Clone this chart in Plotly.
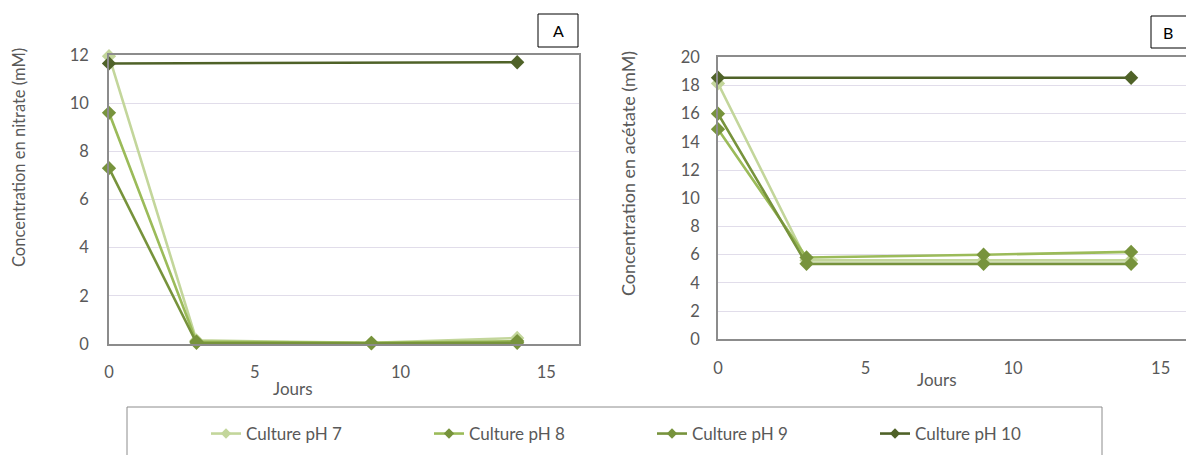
import plotly.graph_objects as go

# ---------------- data ----------------
days = [0, 3, 9, 14]
days_ph10 = [0, 14]

series_names = ["Culture pH 7", "Culture pH 8", "Culture pH 9", "Culture pH 10"]

nitrate_ph7 = [11.95, 0.15, 0.05, 0.25]
nitrate_ph8 = [9.6, 0.10, 0.05, 0.12]
nitrate_ph9 = [7.3, 0.05, 0.03, 0.05]
nitrate_ph10 = [11.65, 11.7]

acetate_ph7 = [18.15, 5.6, 5.6, 5.6]
acetate_ph8 = [14.9, 5.8, 6.0, 6.2]
acetate_ph9 = [16.0, 5.35, 5.35, 5.35]
acetate_ph10 = [18.55, 18.55]

x_ticks = [0, 5, 10, 15]
nitrate_ticks = [0, 2, 4, 6, 8, 10, 12]
acetate_ticks = [0, 2, 4, 6, 8, 10, 12, 14, 16, 18, 20]

# ---------------- styles ----------------
W, H = 1186, 455
FONT = "Lato"
TXT = "#595959"
line_colors = ["#C3D69B", "#9BBB59", "#77933C", "#4F6228"]
marker_colors = ["#C3D69B", "#77933C", "#77933C", "#4F6228"]


def px_x(p):
    return p / W


def px_y(p):
    return (H - p) / H


fig = go.Figure()

nitrate = [nitrate_ph7, nitrate_ph8, nitrate_ph9, nitrate_ph10]
acetate = [acetate_ph7, acetate_ph8, acetate_ph9, acetate_ph10]

for i, name in enumerate(series_names):
    xs = days_ph10 if i == 3 else days
    fig.add_trace(go.Scatter(
        x=xs, y=nitrate[i], name=name, mode="lines+markers",
        line=dict(color=line_colors[i], width=2.6),
        marker=dict(symbol="diamond", size=11, color=marker_colors[i], line=dict(width=0)),
        legendgroup=name, showlegend=False, cliponaxis=False,
        xaxis="x", yaxis="y"))
for i, name in enumerate(series_names):
    xs = days_ph10 if i == 3 else days
    fig.add_trace(go.Scatter(
        x=xs, y=acetate[i], name=name, mode="lines+markers",
        line=dict(color=line_colors[i], width=2.6),
        marker=dict(symbol="diamond", size=11, color=marker_colors[i], line=dict(width=0)),
        legendgroup=name, showlegend=False, cliponaxis=False,
        xaxis="x2", yaxis="y2"))
# legend entries (smaller symbols, as in the reference legend)
for i, name in enumerate(series_names):
    fig.add_trace(go.Scatter(
        x=[None], y=[None], name=name, mode="lines+markers",
        line=dict(color=line_colors[i], width=2.6),
        marker=dict(symbol="diamond", size=8, color=marker_colors[i], line=dict(width=0)),
        legendgroup=name, showlegend=True, xaxis="x", yaxis="y"))

axis_common = dict(
    showline=True, linecolor="#8C8C8C", linewidth=1.5,
    zeroline=False, ticks="", automargin=False,
    tickfont=dict(family=FONT, size=16.5, color=TXT),
)

fig.update_layout(
    width=W, height=H,
    margin=dict(l=0, r=0, t=0, b=0, autoexpand=False),
    paper_bgcolor="white", plot_bgcolor="white",
    font=dict(family=FONT, color=TXT),
    xaxis=dict(domain=[px_x(109), px_x(579)], range=[0, 16.12],
               tickvals=x_ticks, showgrid=False, mirror=True,
               ticklabelstandoff=12, anchor="y", **axis_common),
    yaxis=dict(domain=[px_y(344), px_y(55)], range=[0, 12],
               tickvals=nitrate_ticks, showgrid=True, gridcolor="#E1DDEA", gridwidth=1,
               mirror=True, ticklabelstandoff=15, anchor="x", **axis_common),
    xaxis2=dict(domain=[px_x(718), 1.0], range=[0, 15.86],
                tickvals=x_ticks, showgrid=False, mirror=True,
                ticklabelstandoff=13, anchor="y2", **axis_common),
    yaxis2=dict(domain=[px_y(339.3), px_y(57.3)], range=[0, 20],
                tickvals=acetate_ticks, showgrid=True, gridcolor="#E1DDEA", gridwidth=1,
                mirror=False, ticklabelstandoff=13, anchor="x2", **axis_common),
    legend=dict(orientation="h", x=px_x(206), xanchor="left",
                y=px_y(434), yanchor="middle",
                entrywidth=178, entrywidthmode="pixels",
                bgcolor="rgba(0,0,0,0)", borderwidth=0,
                font=dict(family=FONT, size=17, color=TXT),
                itemsizing="trace", traceorder="normal"),
)


def label(text, x, y, size, color=TXT, angle=0):
    fig.add_annotation(text=text, xref="paper", yref="paper",
                       x=px_x(x), y=px_y(y), xanchor="center", yanchor="middle",
                       textangle=angle, showarrow=False,
                       font=dict(family=FONT, size=size, color=color))


# axis titles
label("Concentration en nitrate (mM)", 19, 158, 16.5, angle=-90)
label("Concentration en acétate (mM)", 628, 174, 18, angle=-90)
label("Jours", 293, 388, 17)
label("Jours", 937, 379, 17)

# panel label boxes
fig.add_shape(type="rect", xref="paper", yref="paper",
              x0=px_x(538), x1=px_x(578), y0=px_y(47), y1=px_y(14),
              line=dict(color="#000000", width=1))
label("A", 558, 31, 16, color="#000000")
fig.add_shape(type="rect", xref="paper", yref="paper",
              x0=px_x(1151), x1=px_x(1192), y0=px_y(48), y1=px_y(16),
              line=dict(color="#000000", width=1))
label("B", 1168, 33, 16, color="#000000")

# legend frame
fig.add_shape(type="rect", xref="paper", yref="paper",
              x0=px_x(127), x1=px_x(1102), y0=px_y(470), y1=px_y(407),
              line=dict(color="#8C8C8C", width=1))

fig.write_html("out.html", config={"displayModeBar": False},
               post_script="document.body.style.margin='0';")
